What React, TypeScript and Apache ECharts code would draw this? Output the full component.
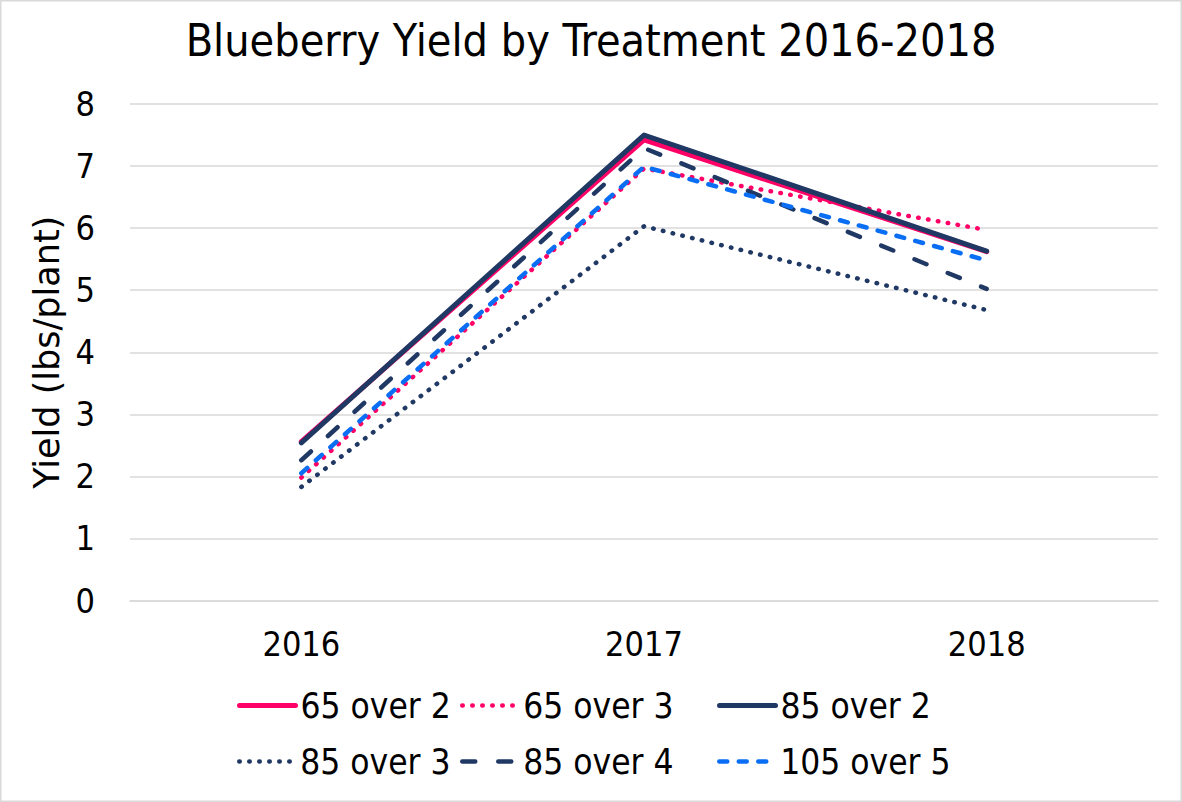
import React, { useEffect, useRef } from "react";
import * as echarts from "echarts";

// Yield per plant (lbs) for each pruning treatment, by harvest year
const years = ["2016", "2017", "2018"];
const yTicks = [0, 1, 2, 3, 4, 5, 6, 7, 8];

const treatments = ["65 over 2", "65 over 3", "85 over 2", "85 over 3", "85 over 4", "105 over 5"];
const yield65over2 = [2.56, 7.42, 5.62];
const yield65over3 = [1.98, 6.96, 5.97];
const yield85over2 = [2.54, 7.5, 5.63];
const yield85over3 = [1.83, 6.03, 4.68];
const yield85over4 = [2.26, 7.29, 5.02];
const yield105over5 = [2.05, 6.99, 5.48];

const PINK = "#FF0066";
const NAVY = "#203864";
const BLUE = "#0A6EF5";
const FONT = "'DejaVu Sans Condensed', 'DejaVu Sans', sans-serif";

const seriesData = [yield65over2, yield65over3, yield85over2, yield85over3, yield85over4, yield105over5];
const seriesStyles: any[] = [
  { color: PINK, width: 5, type: "solid" },
  { color: PINK, width: 4.5, type: [0.5, 9.5] },
  { color: NAVY, width: 5, type: "solid" },
  { color: NAVY, width: 4.5, type: [0.5, 9.5] },
  { color: NAVY, width: 4.5, type: [13, 23] },
  { color: BLUE, width: 4.5, type: [8, 11.5] },
];

// legend columns / rows
const legendLeft = [237, 460, 717];
const legendTop = [688, 744];

export default function App() {
  const ref = useRef<HTMLDivElement>(null);

  useEffect(() => {
    if (!ref.current) return;
    const chart = echarts.init(ref.current, undefined, { renderer: "svg" });

    const series = treatments.map((name, i) => ({
      name,
      type: "line",
      data: seriesData[i],
      symbol: "none",
      color: seriesStyles[i].color,
      lineStyle: {
        color: seriesStyles[i].color,
        width: seriesStyles[i].width,
        type: seriesStyles[i].type,
        cap: "round",
        join: "round",
      },
    }));

    const legend = treatments.map((name, i) => ({
      data: [name],
      left: legendLeft[i % 3],
      top: legendTop[Math.floor(i / 3)],
      padding: 0,
      itemWidth: 56,
      itemHeight: 40,
      itemGap: 0,
      itemStyle: { opacity: 0 },
      lineStyle: {
        color: seriesStyles[i].color,
        width: seriesStyles[i].width,
        type: seriesStyles[i].type,
        cap: "round",
        opacity: 1,
      },
      textStyle: { fontFamily: FONT, fontSize: 35, color: "#000" },
    }));

    chart.setOption({
      animation: false,
      backgroundColor: "#ffffff",
      title: {
        text: "Blueberry Yield by Treatment 2016-2018",
        left: "center",
        top: 13,
        textStyle: { fontFamily: FONT, fontSize: 44.5, fontWeight: "normal", color: "#000" },
      },
      legend,
      grid: { left: 130, right: 24, top: 104, bottom: 201.5 },
      xAxis: {
        type: "category",
        data: years,
        boundaryGap: true,
        axisLine: { show: true, lineStyle: { color: "#d9d9d9", width: 1.5 } },
        axisTick: { show: false },
        axisLabel: { fontFamily: FONT, fontSize: 34, color: "#000", margin: 26 },
      },
      yAxis: {
        type: "value",
        min: yTicks[0],
        max: yTicks[yTicks.length - 1],
        interval: 1,
        name: "Yield (lbs/plant)",
        nameLocation: "middle",
        nameGap: 58,
        nameTextStyle: { fontFamily: "'DejaVu Sans', sans-serif", fontSize: 35, color: "#000" },
        axisLine: { show: false },
        axisTick: { show: false },
        splitLine: { lineStyle: { color: "#d9d9d9", width: 1.5 } },
        axisLabel: { fontFamily: FONT, fontSize: 34, color: "#000", margin: 35 },
      },
      series,
      graphic: [
        {
          type: "rect",
          shape: { x: 0.75, y: 0.75, width: 1180.5, height: 800.5 },
          style: { fill: "none", stroke: "#d9d9d9", lineWidth: 1.5 },
          silent: true,
          z: 100,
        },
      ],
    });

    return () => chart.dispose();
  }, []);

  return (
    <div
      ref={ref}
      style={{ position: "fixed", left: 0, top: 0, width: 1182, height: 802, background: "#fff" }}
    />
  );
}
